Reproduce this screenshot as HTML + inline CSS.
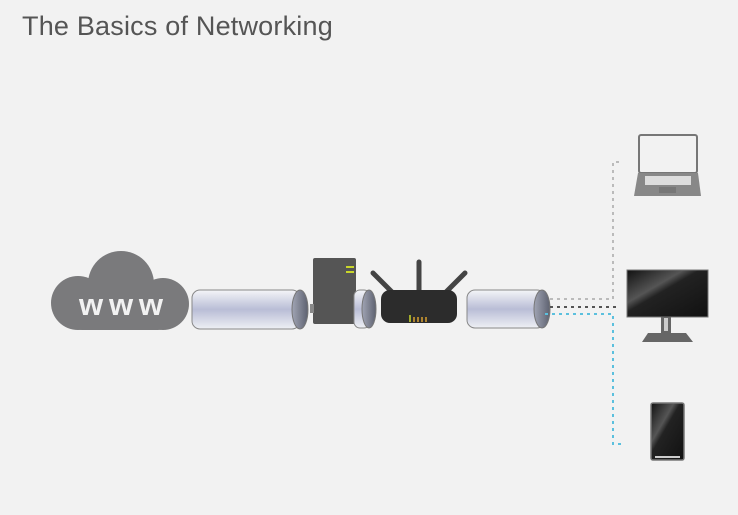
<!DOCTYPE html>
<html><head><style>
body{margin:0;width:738px;height:515px;background:#f2f2f2;overflow:hidden;font-family:"Liberation Sans",sans-serif}
h1{position:absolute;left:22px;top:11px;margin:0;font-weight:normal;font-size:27px;color:#555;letter-spacing:0.2px}
</style></head><body>
<h1>The Basics of Networking</h1>
<svg width="738" height="515" style="position:absolute;left:0;top:0">
<defs>
<linearGradient id="pipe" x1="0" y1="0" x2="0" y2="1">
<stop offset="0" stop-color="#f4f5f8"/><stop offset="0.5" stop-color="#b9bdd6"/><stop offset="1" stop-color="#eef0f4"/></linearGradient>
<linearGradient id="end" x1="0" y1="0" x2="1" y2="0">
<stop offset="0" stop-color="#a0a4b4"/><stop offset="1" stop-color="#5e6270"/></linearGradient>
<linearGradient id="scr" x1="0" y1="0" x2="1" y2="1">
<stop offset="0" stop-color="#111"/><stop offset="0.35" stop-color="#555"/><stop offset="0.45" stop-color="#222"/><stop offset="1" stop-color="#111"/></linearGradient>
</defs>
<!-- cloud -->
<g fill="#7a7a7c">
<circle cx="121" cy="284" r="33"/>
<circle cx="78" cy="303" r="27"/>
<circle cx="163" cy="304" r="26"/>
<rect x="70" y="295" width="100" height="35" rx="12"/>
</g>
<text x="79" y="315" textLength="84" lengthAdjust="spacing" fill="#f2f2f2" font-size="31" font-weight="bold" font-family="Liberation Sans">www</text>
<!-- pipe1 -->
<rect x="192" y="290" width="108" height="39" rx="8" fill="url(#pipe)" stroke="#888" stroke-width="1"/>
<ellipse cx="300" cy="309.5" rx="8" ry="19.5" fill="url(#end)" stroke="#777"/>
<!-- server -->
<rect x="313" y="258" width="43" height="66" rx="2" fill="#555"/>
<rect x="346" y="266" width="8" height="2" fill="#c8d62a"/>
<rect x="346" y="271" width="8" height="2" fill="#c8d62a"/>
<rect x="310" y="304" width="4" height="9" fill="#888"/>
<!-- small pipe -->
<rect x="354" y="290" width="16" height="38" rx="6" fill="url(#pipe)" stroke="#888"/>
<ellipse cx="369" cy="309" rx="7" ry="19" fill="url(#end)" stroke="#777"/>
<!-- router -->
<g stroke="#444" stroke-width="5" stroke-linecap="round">
<line x1="419" y1="262" x2="419" y2="292"/>
<line x1="373" y1="273" x2="392" y2="292"/>
<line x1="465" y1="273" x2="446" y2="292"/>
</g>
<rect x="381" y="290" width="76" height="33" rx="9" fill="#2c2c2c"/>
<g stroke="#d8a030" stroke-width="1.5"><line x1="410" y1="315" x2="410" y2="322" stroke="#c8d62a"/><line x1="414" y1="317" x2="414" y2="322"/><line x1="418" y1="317" x2="418" y2="322"/><line x1="422" y1="317" x2="422" y2="322"/><line x1="426" y1="317" x2="426" y2="322"/></g>
<!-- pipe2 -->
<rect x="467" y="290" width="78" height="38" rx="8" fill="url(#pipe)" stroke="#888"/>
<ellipse cx="542" cy="309" rx="8" ry="19" fill="url(#end)" stroke="#777"/>
<!-- lines -->
<path d="M550 299 H613 V162 H622" fill="none" stroke="#bbb" stroke-width="2" stroke-dasharray="3,4"/>
<path d="M550 307 H616" fill="none" stroke="#555" stroke-width="2" stroke-dasharray="3,4"/>
<path d="M545 314 H613 V444 H624" fill="none" stroke="#5bc0de" stroke-width="2" stroke-dasharray="3,4"/>
<!-- laptop -->
<rect x="639" y="135" width="58" height="38" rx="2" fill="#f2f2f2" stroke="#777" stroke-width="2"/>
<path d="M638 173 H698 L701 196 H634 Z" fill="#888"/>
<rect x="645" y="176" width="46" height="9" fill="#ddd"/>
<rect x="659" y="187" width="17" height="6" fill="#777"/>
<!-- monitor -->
<rect x="627" y="270" width="81" height="47" fill="url(#scr)" stroke="#777"/>
<rect x="661" y="317" width="10" height="16" fill="#666"/>
<rect x="664" y="318" width="4" height="13" fill="#ccc"/>
<path d="M648 333 H686 L693 342 H642 Z" fill="#666"/>
<!-- phone -->
<rect x="651" y="403" width="33" height="57" rx="2" fill="url(#scr)" stroke="#777" stroke-width="1.5"/>
<rect x="655" y="456" width="25" height="2" fill="#ccc"/>
</svg>
</body></html>
